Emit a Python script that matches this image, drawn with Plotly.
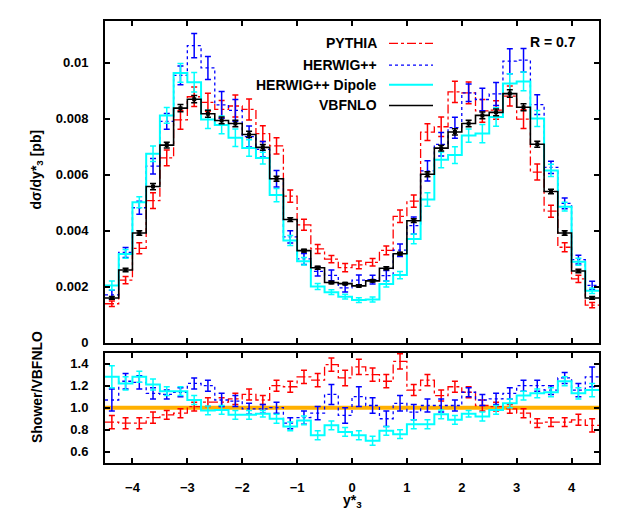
import numpy as np
import plotly.graph_objects as go

# --- datos ---
EDGES = np.linspace(-4.5, 4.5, 37)
CENTERS = (EDGES[:-1] + EDGES[1:]) / 2

VBFNLO = [0.00160, 0.00260, 0.00392, 0.00558, 0.00706, 0.00838, 0.00870, 0.00818,
          0.00794, 0.00783, 0.00744, 0.00698, 0.00586, 0.00440, 0.00329, 0.00268,
          0.00215, 0.00211, 0.00203, 0.00221, 0.00266, 0.00318, 0.00436, 0.00602,
          0.00695, 0.00753, 0.00783, 0.00812, 0.00823, 0.00890, 0.00841, 0.00709,
          0.00540, 0.00392, 0.00256, 0.00160]
VBFNLO_REL_ERR = [0.03, 0.025, 0.02, 0.02, 0.015, 0.015, 0.015, 0.015,
                  0.015, 0.015, 0.015, 0.015, 0.015, 0.015, 0.015, 0.02,
                  0.02, 0.02, 0.02, 0.02, 0.02, 0.015, 0.015, 0.015,
                  0.015, 0.015, 0.015, 0.015, 0.015, 0.015, 0.015, 0.015,
                  0.015, 0.02, 0.025, 0.03]

# cocientes Shower/VBFNLO (panel inferior)
RATIO_PYTHIA = [0.87, 0.86, 0.86, 0.91, 0.935, 0.95, 1.01, 1.05,
                1.05, 1.08, 1.12, 1.07, 1.20, 1.19, 1.28, 1.25,
                1.39, 1.27, 1.37, 1.30, 1.24, 1.42, 1.16, 1.25,
                1.11, 1.19, 1.14, 1.02, 1.01, 0.99, 0.95, 0.86,
                0.87, 0.87, 0.89, 0.84]
ERR_PYTHIA = [0.06, 0.05, 0.05, 0.05, 0.04, 0.04, 0.04, 0.04,
              0.04, 0.05, 0.05, 0.04, 0.05, 0.05, 0.06, 0.06,
              0.06, 0.07, 0.07, 0.06, 0.06, 0.07, 0.05, 0.05,
              0.05, 0.05, 0.05, 0.05, 0.04, 0.04, 0.04, 0.04,
              0.04, 0.04, 0.05, 0.06]

RATIO_HERWIG = [1.07, 1.24, 1.23, 1.13, 1.12, 1.14, 1.22, 1.20,
                1.07, 1.06, 0.99, 0.99, 1.00, 0.86, 0.91, 0.95,
                1.12, 0.93, 1.10, 1.02, 0.90, 1.04, 0.96, 1.02,
                1.02, 1.02, 1.14, 1.07, 1.08, 1.13, 1.20, 1.20,
                1.16, 1.27, 1.16, 1.28]
ERR_HERWIG = [0.10, 0.07, 0.06, 0.05, 0.04, 0.04, 0.05, 0.05,
              0.06, 0.05, 0.05, 0.04, 0.05, 0.05, 0.06, 0.06,
              0.09, 0.07, 0.09, 0.07, 0.07, 0.07, 0.07, 0.06,
              0.06, 0.05, 0.04, 0.05, 0.05, 0.05, 0.05, 0.05,
              0.04, 0.05, 0.06, 0.09]

RATIO_DIPOLE = [1.28, 1.22, 1.28, 1.21, 1.15, 1.15, 1.07, 0.975,
                0.98, 0.935, 0.935, 0.945, 0.90, 0.83, 0.885, 0.75,
                0.84, 0.78, 0.75, 0.70, 0.79, 0.76, 0.85, 0.85,
                0.94, 0.89, 0.945, 0.92, 0.98, 1.04, 1.11, 1.13,
                1.14, 1.24, 1.13, 1.16]
ERR_DIPOLE = [0.10, 0.06, 0.05, 0.05, 0.04, 0.04, 0.04, 0.04,
              0.04, 0.04, 0.04, 0.03, 0.04, 0.04, 0.04, 0.04,
              0.04, 0.04, 0.04, 0.04, 0.04, 0.04, 0.04, 0.04,
              0.04, 0.04, 0.03, 0.04, 0.04, 0.04, 0.04, 0.04,
              0.04, 0.04, 0.05, 0.06]

X_TICKS = [-4, -3, -2, -1, 0, 1, 2, 3, 4]
Y_TICKS_TOP = [0, 0.002, 0.004, 0.006, 0.008, 0.01]
Y_TEXT_TOP = ["0", "0.002", "0.004", "0.006", "0.008", "0.01"]
Y_TICKS_BOT = [0.6, 0.8, 1.0, 1.2, 1.4]
Y_TEXT_BOT = ["0.6", "0.8", "1.0", "1.2", "1.4"]

# --- estilo ---
# el body de la página tiene 8px de margen: la figura empieza en (8, 8)
OFF = 8
W, H = 628 - 2 * OFF, 528 - 12
FONT = "Liberation Sans, Arial, Helvetica, sans-serif"
NOMARK = dict(size=6, color="rgba(0,0,0,0)")
SERIES = [
    ("PYTHIA", RATIO_PYTHIA, ERR_PYTHIA, "#ff0000", "dashdot", 1.3),
    ("HERWIG++", RATIO_HERWIG, ERR_HERWIG, "#0000ff", "dot", 1.3),
    ("HERWIG++ Dipole", RATIO_DIPOLE, ERR_DIPOLE, "#00ffff", "solid", 2.0),
]


def px(x):
    return (x - OFF) / W


def py(y):
    return 1 - (y - OFF) / H


def steps(vals):
    return list(vals) + [vals[-1]]


vbf = np.array(VBFNLO)
fig = go.Figure()

# línea de referencia naranja en el panel de cocientes
fig.add_trace(go.Scatter(x=[EDGES[0], EDGES[-1]], y=[1, 1], mode="lines",
                         line=dict(color="#ffb000", width=4),
                         xaxis="x2", yaxis="y2", showlegend=False, hoverinfo="skip"))

for name, ratio, err, color, dash, lw in SERIES:
    r = np.array(ratio)
    e = np.array(err)
    top = r * vbf
    top_err = e * vbf
    # panel superior
    fig.add_trace(go.Scatter(x=EDGES, y=steps(top), mode="lines", line_shape="hv",
                             line=dict(color=color, dash=dash, width=lw),
                             xaxis="x", yaxis="y", showlegend=False))
    fig.add_trace(go.Scatter(x=CENTERS, y=top, mode="markers", marker=NOMARK,
                             error_y=dict(type="data", array=top_err, color=color,
                                          thickness=1.5, width=3),
                             xaxis="x", yaxis="y", showlegend=False, name=name))
    # panel inferior
    fig.add_trace(go.Scatter(x=EDGES, y=steps(r), mode="lines", line_shape="hv",
                             line=dict(color=color, dash=dash, width=lw),
                             xaxis="x2", yaxis="y2", showlegend=False))
    fig.add_trace(go.Scatter(x=CENTERS, y=r, mode="markers", marker=NOMARK,
                             error_y=dict(type="data", array=e, color=color,
                                          thickness=1.5, width=3),
                             xaxis="x2", yaxis="y2", showlegend=False, name=name))

# VBFNLO
fig.add_trace(go.Scatter(x=EDGES, y=steps(vbf), mode="lines", line_shape="hv",
                         line=dict(color="black", width=1.6),
                         xaxis="x", yaxis="y", showlegend=False))
fig.add_trace(go.Scatter(x=CENTERS, y=vbf, mode="markers",
                         marker=dict(size=4, color="black", symbol="square"),
                         error_y=dict(type="data", array=vbf * np.array(VBFNLO_REL_ERR),
                                      color="black", thickness=1.5, width=3),
                         xaxis="x", yaxis="y", showlegend=False, name="VBFNLO"))

axis_common = dict(showline=True, linecolor="black", linewidth=2, mirror="ticks",
                   ticks="inside", ticklen=5, tickwidth=1.5, tickcolor="black",
                   showgrid=False, zeroline=False,
                   tickfont=dict(family=FONT, size=13, color="black", weight="bold"))

x_dom = [px(105), px(599)]
fig.update_layout(
    width=W, height=H,
    margin=dict(l=0, r=0, t=0, b=0),
    paper_bgcolor="white", plot_bgcolor="white",
    xaxis=dict(domain=x_dom, anchor="y", range=[-4.5, 4.5], tickvals=X_TICKS,
               showticklabels=False, **axis_common),
    yaxis=dict(domain=[py(348), py(21)], anchor="x", range=[0, 0.0115],
               tickvals=Y_TICKS_TOP, ticktext=Y_TEXT_TOP, ticklabelstandoff=12,
               **axis_common),
    xaxis2=dict(domain=x_dom, anchor="y2", range=[-4.5, 4.5], tickvals=X_TICKS,
                ticklabelstandoff=12, **axis_common),
    yaxis2=dict(domain=[py(470), py(358)], anchor="x2", range=[0.5, 1.5],
                tickvals=Y_TICKS_BOT, ticktext=Y_TEXT_BOT, ticklabelstandoff=12,
                **axis_common),
)

txt_font = dict(family=FONT, size=14, color="black", weight="bold")


def label(x, y, text, xanchor="center", angle=0):
    fig.add_annotation(x=px(x), y=py(y), xref="paper", yref="paper",
                       xanchor=xanchor, yanchor="middle", text=text,
                       textangle=angle, showarrow=False, font=txt_font)


# títulos de ejes
label(37, 172, "dσ/dy*<sub>3</sub> [pb]", angle=-90)
label(37, 393, "Shower/VBFNLO", angle=-90)
label(352, 509, "y*<sub>3</sub>")
label(528, 43, "R = 0.7", xanchor="left")

# leyenda estilo gnuplot
legend_rows = [("PYTHIA", "#ff0000", "dashdot", 1.3, 44),
               ("HERWIG++", "#0000ff", "dot", 1.3, 66),
               ("HERWIG++ Dipole", "#00ffff", "solid", 2.0, 86),
               ("VBFNLO", "black", "solid", 1.6, 107)]
for text, color, dash, lw, yy in legend_rows:
    label(379, yy, text, xanchor="right")
    fig.add_shape(type="line", xref="paper", yref="paper",
                  x0=px(389), x1=px(433), y0=py(yy), y1=py(yy),
                  line=dict(color=color, dash=dash, width=lw))

fig.write_html("out.html")
